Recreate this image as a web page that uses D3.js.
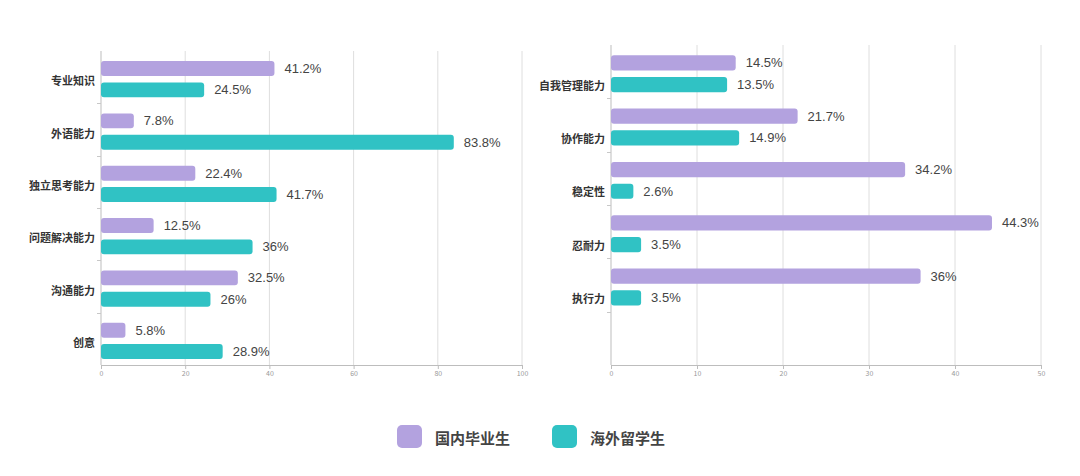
<!DOCTYPE html>
<html><head><meta charset="utf-8">
<script src="https://cdn.jsdelivr.net/npm/d3@7"></script>
<style>html,body{margin:0;padding:0;background:#fff;}svg{display:block;}</style>
</head><body>
<svg id="chart" width="1080" height="476"></svg>
<script>
const seriesNames = ["国内毕业生", "海外留学生"];
const leftCategories = ["专业知识", "外语能力", "独立思考能力", "问题解决能力", "沟通能力", "创意"];
const leftDomestic = [41.2, 7.8, 22.4, 12.5, 32.5, 5.8];
const leftOverseas = [24.5, 83.8, 41.7, 36, 26, 28.9];
const leftTicks = [0, 20, 40, 60, 80, 100];
const rightCategories = ["自我管理能力", "协作能力", "稳定性", "忍耐力", "执行力"];
const rightDomestic = [14.5, 21.7, 34.2, 44.3, 36];
const rightOverseas = [13.5, 14.9, 2.6, 3.5, 3.5];
const rightTicks = [0, 10, 20, 30, 40, 50];

const colors = ["#b3a2df", "#30c2c4"];
const svg = d3.select("#chart");
const font = "'Noto Sans CJK SC','Noto Sans',sans-serif";

function panel(opts) {
  const {x0, x1, top, bottom, cats, vals, ticks, max, labelOffset} = opts;
  const g = svg.append("g");
  const x = d3.scaleLinear().domain([0, max]).range([x0, x1]);
  const slots = cats.concat(d3.range(6 - cats.length).map(i => "__empty" + i));
  const y = d3.scaleBand().domain(slots).range([top, bottom]);
  const sub = d3.scaleBand().domain([0, 1]).range([10 * y.bandwidth() / 52, 46 * y.bandwidth() / 52]).paddingInner(0.3);

  // gridlines
  g.append("g").selectAll("line").data(ticks.filter(t => t > 0)).join("line")
    .attr("x1", d => x(d)).attr("x2", d => x(d))
    .attr("y1", top).attr("y2", bottom)
    .attr("stroke", "#dedede").attr("stroke-width", 1);

  // x axis
  const xa = g.append("g").attr("transform", `translate(0,${bottom})`)
    .call(d3.axisBottom(x).tickValues(ticks).tickSize(4).tickPadding(2).tickFormat(d3.format("d")));
  xa.select(".domain").attr("stroke", "#bdbdbd");
  xa.selectAll(".tick line").attr("stroke", "#bdbdbd");
  xa.selectAll("text").attr("fill", "#999").attr("font-size", 7).attr("font-family", font);

  // y axis line & boundary ticks
  g.append("line").attr("x1", x0).attr("x2", x0).attr("y1", top).attr("y2", bottom)
    .attr("stroke", "#bdbdbd");
  g.append("g").selectAll("line").data(slots.slice(1)).join("line")
    .attr("x1", x0 - 4).attr("x2", x0)
    .attr("y1", d => Math.round(y(d)) + 0.5).attr("y2", d => Math.round(y(d)) + 0.5)
    .attr("stroke", "#c8c8c8");

  // bars
  cats.forEach((c, i) => {
    vals.forEach((arr, s) => {
      const by = y(c) + sub(s);
      g.append("rect")
        .attr("x", x(0)).attr("y", by)
        .attr("width", x(arr[i]) - x(0)).attr("height", sub.bandwidth())
        .attr("rx", 3).attr("fill", colors[s]);
      g.append("text")
        .attr("x", x(arr[i]) + 10).attr("y", by + sub.bandwidth() / 2)
        .attr("dominant-baseline", "central")
        .attr("font-size", 13).attr("font-family", "'Liberation Sans',Arial,sans-serif")
        .attr("fill", "#444").text(arr[i] + "%");
    });
    g.append("text")
      .attr("x", x0 - 6).attr("y", y(c) + labelOffset(sub))
      .attr("text-anchor", "end").attr("dominant-baseline", "central")
      .attr("font-size", 11).attr("font-weight", 700).attr("font-family", font)
      .attr("fill", "#333").text(c);
  });
}

panel({x0: 101, x1: 522, top: 51, bottom: 365, cats: leftCategories,
  vals: [leftDomestic, leftOverseas], ticks: leftTicks, max: 100,
  labelOffset: sub => (sub(0) + sub(1) + sub.bandwidth()) / 2 + 1});
panel({x0: 611, x1: 1041, top: 45, bottom: 365, cats: rightCategories,
  vals: [rightDomestic, rightOverseas], ticks: rightTicks, max: 50,
  labelOffset: sub => sub(1) + sub.bandwidth() / 2});

// legend
const legend = svg.append("g");
const lx = [397, 552];
seriesNames.forEach((n, i) => {
  legend.append("rect").attr("x", lx[i]).attr("y", 425).attr("width", 25).attr("height", 23)
    .attr("rx", 5).attr("fill", colors[i]);
  legend.append("text").attr("x", lx[i] + 38).attr("y", 437)
    .attr("dominant-baseline", "central").attr("font-size", 15).attr("font-weight", 700)
    .attr("font-family", font).attr("fill", "#444").text(n);
});
</script>
</body></html>
